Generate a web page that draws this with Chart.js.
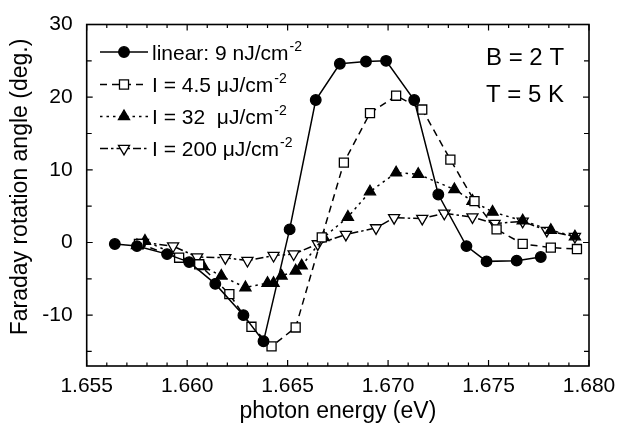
<!DOCTYPE html>
<html><head><meta charset="utf-8">
<script src="https://cdn.jsdelivr.net/npm/chart.js@4"></script>
<style>html,body{margin:0;padding:0;background:#fff;}</style>
</head><body>
<canvas id="c" width="617" height="428"></canvas>
<script>
// ---- data ----
const xTickValues = [1.655, 1.660, 1.665, 1.670, 1.675, 1.680];
const yTickValues = [-10, 0, 10, 20, 30];
const seriesLabels = ["linear: 9 nJ/cm", "I = 4.5 \u03BCJ/cm", "I = 32  \u03BCJ/cm", "I = 200 \u03BCJ/cm"];

const linearX = [1.6564, 1.6575, 1.6590, 1.6601, 1.6614, 1.6628, 1.6638, 1.6651, 1.6664, 1.6676, 1.6689, 1.6699, 1.6713, 1.6725, 1.6739, 1.6749, 1.6764, 1.6776];
const linearY = [-0.2, -0.5, -1.6, -2.7, -5.7, -10.0, -13.6, 1.8, 19.6, 24.6, 24.9, 25.0, 19.6, 6.6, -0.5, -2.6, -2.5, -2.0];

const i45X = [1.6576, 1.6596, 1.6606, 1.6621, 1.6632, 1.6642, 1.6654, 1.6667, 1.6678, 1.6691, 1.6704, 1.6717, 1.6731, 1.6743, 1.6754, 1.6767, 1.6781, 1.6794];
const i45Y = [-0.2, -2.1, -3.0, -7.1, -11.6, -14.3, -11.7, 0.7, 11.0, 17.8, 20.2, 18.3, 11.4, 5.7, 1.8, -0.2, -0.7, -0.9];

const i32X = [1.6575, 1.6579, 1.6608, 1.6617, 1.6629, 1.6640, 1.6643, 1.6647, 1.6654, 1.6657, 1.6668, 1.6680, 1.6691, 1.6704, 1.6715, 1.6733, 1.6742, 1.6752, 1.6767, 1.6781, 1.6793];
const i32Y = [-0.4, 0.2, -3.3, -4.6, -6.2, -5.6, -5.6, -4.6, -3.9, -3.2, 0.7, 3.5, 7.0, 9.6, 9.4, 7.3, 5.7, 4.2, 3.0, 1.7, 0.8];

const i200X = [1.6578, 1.6593, 1.6605, 1.6619, 1.6630, 1.6643, 1.6653, 1.6665, 1.6679, 1.6694, 1.6703, 1.6717, 1.6728, 1.6742, 1.6753, 1.6767, 1.6779, 1.6793];
const i200Y = [0.0, -0.5, -2.0, -2.1, -2.5, -1.8, -1.6, -0.2, 1.1, 2.0, 3.4, 3.3, 4.0, 3.5, 2.6, 2.9, 1.65, 0.8];

const FONT = "'Liberation Sans', Arial, sans-serif";
const pts = (xs, ys) => xs.map((x, i) => ({x: x, y: ys[i]}));

const styles = [
  {pointStyle: 'circle', rot: 0, r: 5.3, fill: '#000', dash: []},
  {pointStyle: 'rect', rot: 0, r: 6.4, fill: '#fff', dash: [7, 5]},
  {pointStyle: 'triangle', rot: 0, r: 6.4, fill: '#000', dash: [2.5, 4]},
  {pointStyle: 'triangle', rot: 180, r: 6.4, fill: '#fff', dash: [8, 3, 2.5, 3]}
];
const dataSets = [pts(linearX, linearY), pts(i45X, i45Y), pts(i32X, i32Y), pts(i200X, i200Y)];

const datasets = dataSets.map((d, i) => ({
  label: seriesLabels[i],
  data: d,
  showLine: true,
  borderColor: '#000',
  borderWidth: 1.5,
  borderDash: styles[i].dash,
  pointStyle: styles[i].pointStyle,
  pointRotation: styles[i].rot,
  pointRadius: styles[i].r,
  pointBackgroundColor: styles[i].fill,
  pointBorderColor: '#000',
  pointBorderWidth: 1.3,
  backgroundColor: styles[i].fill,
  tension: 0
}));

const decor = {
  id: 'decor',
  afterDraw(chart) {
    const ctx = chart.ctx;
    const xs = chart.scales.x, ys = chart.scales.y;
    const L = chart.chartArea.left, R = chart.chartArea.right, T = chart.chartArea.top, B = chart.chartArea.bottom;
    ctx.save();
    ctx.strokeStyle = '#000';
    ctx.lineWidth = 1.6;
    ctx.setLineDash([]);
    ctx.strokeRect(L, T, R - L, B - T);
    ctx.lineWidth = 1.2;
    // x ticks
    for (let k = 0; k <= 25; k++) {
      const v = 1.655 + k * 0.001;
      const px = xs.getPixelForValue(v);
      const len = (k % 5 === 0) ? 6 : 3.5;
      ctx.beginPath();
      ctx.moveTo(px, B); ctx.lineTo(px, B - len);
      ctx.moveTo(px, T); ctx.lineTo(px, T + len);
      ctx.stroke();
    }
    // y ticks
    for (let v = -15; v <= 30; v += 5) {
      const py = ys.getPixelForValue(v);
      const len = (v % 10 === 0) ? 6 : 5;
      ctx.beginPath();
      ctx.moveTo(L, py); ctx.lineTo(L + len, py);
      ctx.moveTo(R, py); ctx.lineTo(R - len, py);
      ctx.stroke();
    }
    // axis titles
    ctx.fillStyle = '#000';
    ctx.font = '23px ' + FONT;
    ctx.textAlign = 'center';
    ctx.textBaseline = 'middle';
    ctx.fillText('photon energy (eV)', (L + R) / 2, 412);
    ctx.save();
    ctx.translate(21, 187);
    ctx.rotate(-Math.PI / 2);
    ctx.fillText('Faraday rotation angle (deg.)', 0, 0);
    ctx.restore();
    // annotations
    ctx.font = '24px ' + FONT;
    ctx.textAlign = 'left';
    ctx.textBaseline = 'alphabetic';
    ctx.fillText('B = 2 T', 486, 65);
    ctx.fillText('T = 5 K', 486, 102);
    // legend
    const rows = [52, 84.5, 116.5, 148.5];
    rows.forEach((ry, i) => {
      const st = styles[i];
      ctx.save();
      ctx.lineWidth = 1.5;
      ctx.setLineDash(st.dash);
      ctx.beginPath();
      ctx.moveTo(100, ry); ctx.lineTo(148, ry);
      ctx.stroke();
      ctx.restore();
      ctx.save();
      ctx.setLineDash([]);
      ctx.lineWidth = 1.3;
      ctx.fillStyle = st.fill;
      ctx.strokeStyle = '#000';
      Chart.helpers.drawPoint(ctx, {pointStyle: st.pointStyle, rotation: st.rot, radius: st.r, borderWidth: 1.3}, 124, ry);
      ctx.restore();
      ctx.fillStyle = '#000';
      ctx.font = '21px ' + FONT;
      ctx.textAlign = 'left';
      ctx.textBaseline = 'alphabetic';
      const tx = 152, by = ry + 7.5;
      ctx.fillText(seriesLabels[i], tx, by);
      const w = ctx.measureText(seriesLabels[i]).width;
      ctx.font = '14px ' + FONT;
      ctx.fillText('-2', tx + w + 1, by - 9);
    });
    ctx.restore();
  }
};

new Chart(document.getElementById('c'), {
  type: 'scatter',
  data: {datasets: datasets},
  options: {
    responsive: false,
    animation: false,
    devicePixelRatio: 1,
    layout: {padding: {top: 24.5, right: 28, left: 0, bottom: 0}},
    plugins: {legend: {display: false}, tooltip: {enabled: false}},
    scales: {
      x: {
        type: 'linear', min: 1.655, max: 1.680,
        afterBuildTicks: s => { s.ticks = xTickValues.map(v => ({value: v})); },
        afterFit: s => { s.height = 62; },
        grid: {display: false}, border: {display: false},
        ticks: {callback: v => Number(v).toFixed(3), font: {family: FONT, size: 21}, color: '#000', padding: 0, maxRotation: 0, autoSkip: false}
      },
      y: {
        type: 'linear', min: -17, max: 30,
        afterBuildTicks: s => { s.ticks = yTickValues.map(v => ({value: v})); },
        afterFit: s => { s.width = 86.7; },
        grid: {display: false}, border: {display: false},
        ticks: {callback: v => String(v), font: {family: FONT, size: 21}, color: '#000', padding: 6, autoSkip: false}
      }
    }
  },
  plugins: [decor]
});
</script>
</body></html>
